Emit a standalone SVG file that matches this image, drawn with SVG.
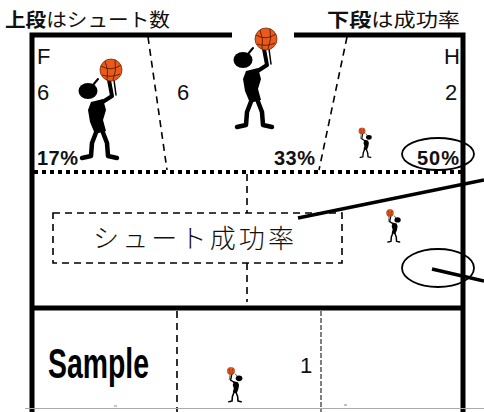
<svg xmlns="http://www.w3.org/2000/svg" width="484" height="412" viewBox="0 0 484 412">
  <style>
    .frame { stroke: #000; stroke-width: 5; fill: none; }
    .dotted { stroke: #000; stroke-width: 4; stroke-dasharray: 4 4; fill: none; }
    .dash { stroke: #000; stroke-width: 1.6; stroke-dasharray: 7 5; fill: none; }
    .thin-dash { stroke: #000; stroke-width: 1; stroke-dasharray: 5 2; fill: none; }
    .pointer { stroke: #000; stroke-width: 3.5; fill: none; stroke-linecap: butt; }
    .ring { stroke: #000; stroke-width: 1.8; fill: none; }
    .num { font-family: "Liberation Sans", Arial, sans-serif; font-size: 22px; fill: #111; }
    .pct { font-family: "Liberation Sans", Arial, sans-serif; font-size: 20px; font-weight: bold; fill: #111; }
    .jp { font-family: "Noto Sans CJK JP", sans-serif; fill: #111; }
  </style>
  <defs>
    <!-- shooter silhouette, ball centred on the origin -->
    <symbol id="shooter" overflow="visible">
      <g stroke="#000" stroke-linecap="round" stroke-linejoin="round">
        <!-- raised arm -->
        <path d="M-2,10 L1,26 L-13,35" stroke-width="4" fill="none"/>
        <path d="M3,10 L5,25" stroke-width="1.5" fill="none"/>
        <!-- tuft above head -->
        <path d="M-18,15 L-13,9" stroke-width="2" fill="none"/>
        <!-- legs -->
        <path d="M-14,60 L-19,73 L-20,86 L-29,88" stroke-width="4.5" fill="none"/>
        <path d="M-9,60 L-4,73 L-3,86 L6,88" stroke-width="4.5" fill="none"/>
      </g>
      <ellipse cx="-23" cy="21" rx="9.5" ry="8" fill="#000"/>
      <path d="M-20,32 L-8,29 L-5,40 L-8,50 L-5,61 L-16,64 L-21,52 L-23,40 Z" fill="#000"/>
      <circle cx="0" cy="0" r="11" fill="#ea5a1c" stroke="#7a2a08" stroke-width="0.8"/>
      <path d="M-10,-4 Q0,2 10,-5 M-6,-9 Q-2,0 -4,10 M4,-10 Q6,0 2,10 M-9,5 Q0,8 9,4" stroke="#5a1e05" stroke-width="0.9" fill="none"/>
    </symbol>
  </defs>

  <!-- headings -->
  <g id="title-top">
    <text class="jp" x="5" y="27" font-size="19" textLength="165" lengthAdjust="spacingAndGlyphs"><tspan font-weight="bold">上段</tspan>はシュート数</text>
  </g>
  <g id="title-bottom">
    <text class="jp" x="327" y="27" font-size="19" textLength="133" lengthAdjust="spacingAndGlyphs"><tspan font-weight="bold">下段</tspan>は成功率</text>
  </g>

  <!-- court frame and divisions -->
  <g id="connectors">
    <path class="frame" d="M32,412 V35 H232"/>
    <path class="frame" d="M294,35 H463 V412"/>
    <line class="frame" x1="32" y1="308" x2="463" y2="308"/>
    <line class="dotted" x1="34" y1="172" x2="461" y2="172"/>
    <line class="dash" x1="148" y1="37" x2="167" y2="170"/>
    <line class="dash" x1="347" y1="37" x2="319" y2="170"/>
    <line class="dash" x1="247" y1="174" x2="247" y2="213"/>
    <line class="dash" x1="247" y1="263" x2="247" y2="302"/>
    <line class="dash" x1="177" y1="311" x2="177" y2="412"/>
    <line class="thin-dash" x1="321" y1="311" x2="321" y2="412"/>
    <line x1="25" y1="408.5" x2="484" y2="408.5" stroke="#aaa" stroke-width="1"/>
    <line class="pointer" x1="298" y1="218" x2="484" y2="180"/>
    <line class="pointer" x1="432" y1="269" x2="484" y2="281"/>
    <ellipse class="ring" cx="438" cy="154" rx="36" ry="16"/>
    <ellipse class="ring" cx="438" cy="268" rx="36" ry="19"/>
  </g>

  <!-- zone F -->
  <g id="zone-f">
    <text class="num" x="37" y="64">F</text>
    <text class="num" x="37" y="100">6</text>
    <text class="pct" x="37" y="165" textLength="41" lengthAdjust="spacing">17%</text>
    <use href="#shooter" transform="translate(111,70)"/>
  </g>

  <!-- centre zone -->
  <g id="zone-center">
    <text class="num" x="177" y="100">6</text>
    <text class="pct" x="274" y="165" textLength="41" lengthAdjust="spacing">33%</text>
    <use href="#shooter" transform="translate(266,39)"/>
  </g>

  <!-- zone H -->
  <g id="zone-h">
    <text class="num" x="444" y="64">H</text>
    <text class="num" x="445" y="100">2</text>
    <text class="pct" x="417" y="165" textLength="42" lengthAdjust="spacing">50%</text>
    <use href="#shooter" transform="translate(362,131) scale(-0.3,0.3)"/>
  </g>

  <!-- label box -->
  <g id="label">
    <rect class="dash" x="53" y="213" width="289" height="50"/>
    <text class="jp" x="93" y="248" font-size="26" font-weight="300" textLength="201" lengthAdjust="spacing">シュート成功率</text>
  </g>

  <g id="figure-mid">
    <use href="#shooter" transform="translate(390,213) scale(-0.33,0.33)"/>
  </g>

  <!-- sample row -->
  <g id="sample">
    <text x="48" y="378" font-family="'Liberation Sans Narrow', 'Liberation Sans', Arial, sans-serif" font-size="42" font-weight="bold" textLength="101" lengthAdjust="spacingAndGlyphs" fill="#000">Sample</text>
    <text class="num" x="300" y="373">1</text>
    <use href="#shooter" transform="translate(231,371) scale(-0.35,0.35)"/>
    <rect x="114" y="405" width="3" height="2" fill="#c8c8b4"/>
    <rect x="344" y="404" width="3" height="2" fill="#d0b8c0"/>
  </g>
</svg>
